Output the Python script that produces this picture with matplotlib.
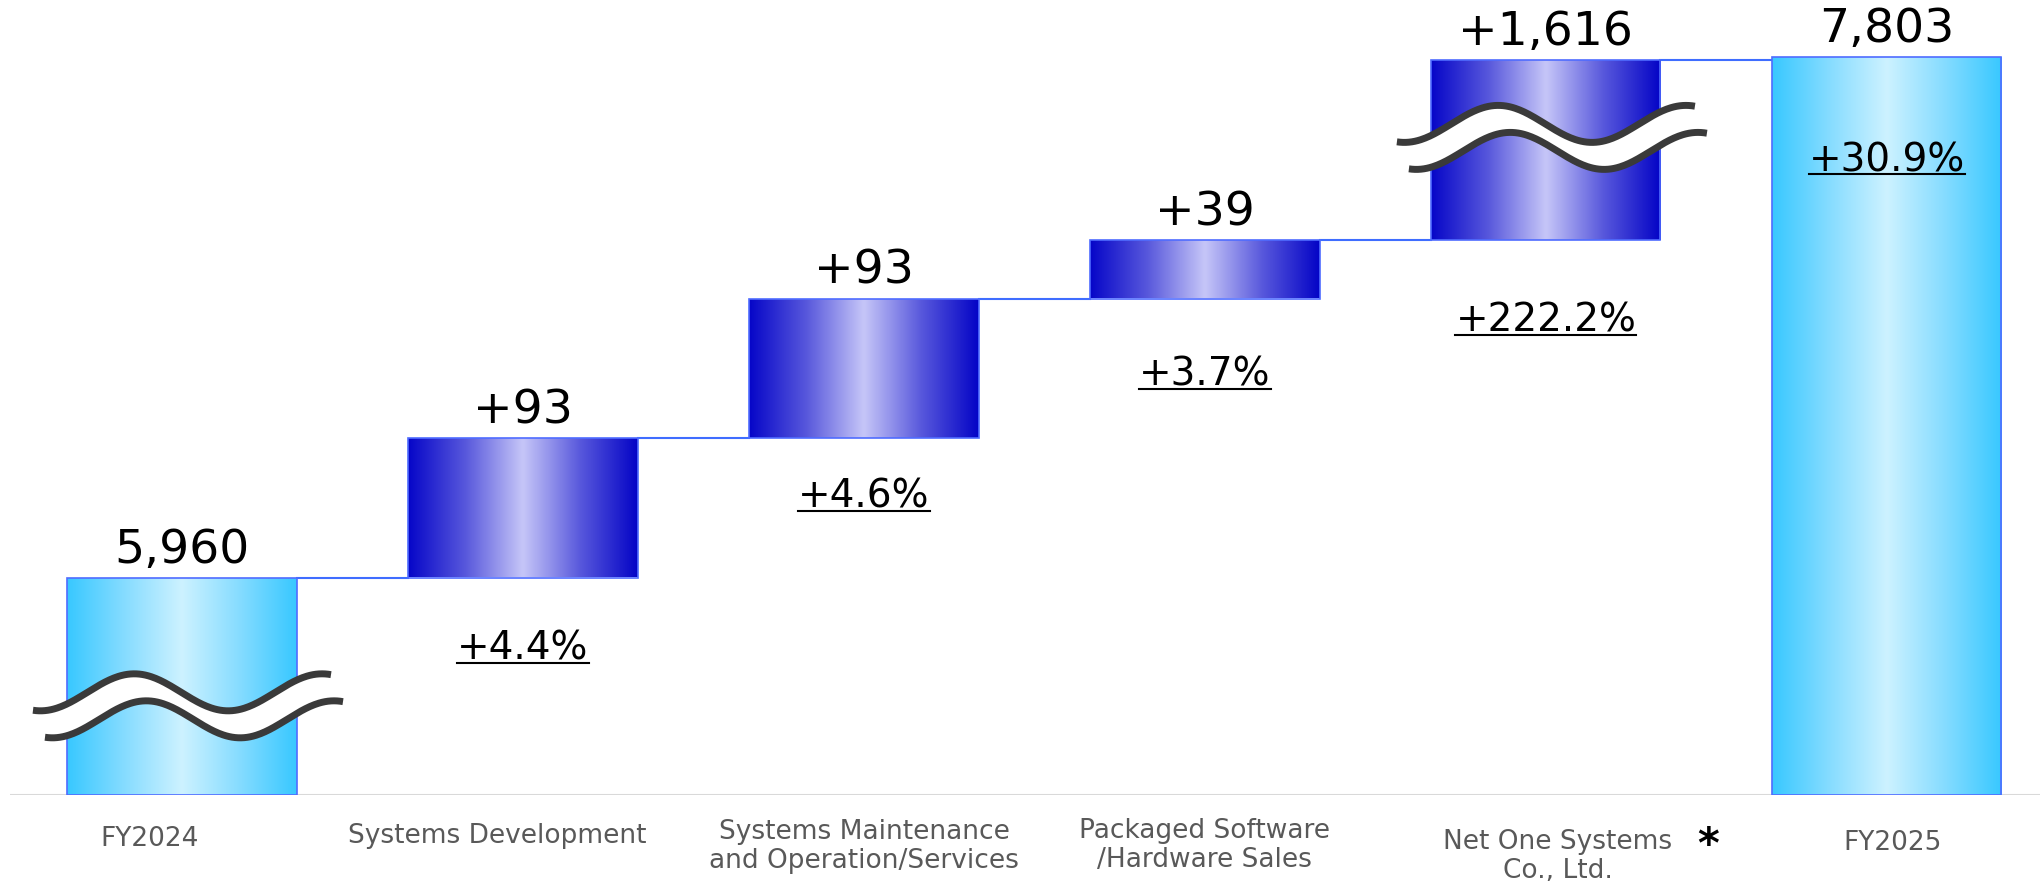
import numpy as np
import matplotlib
matplotlib.use('Agg')
import matplotlib.pyplot as plt
import matplotlib.transforms as mtransforms
from matplotlib.colors import LinearSegmentedColormap
from matplotlib.patches import Polygon
from matplotlib.lines import Line2D

# Data
categories = ['FY2024', 'Systems Development',
              'Systems Maintenance\nand Operation/Services',
              'Packaged Software\n/Hardware Sales',
              'Net One Systems\nCo., Ltd.', 'FY2025']
values = [5960, 93, 93, 39, 1616, 7803]
kinds = ['total', 'delta', 'delta', 'delta', 'delta', 'total']
value_labels = ['5,960', '+93', '+93', '+39', '+1,616', '7,803']
pct_labels = ['', '+4.4%', '+4.6%', '+3.7%', '+222.2%', '+30.9%']
# amount hidden by each axis break (shown with a wavy mark)
break_cut = [5815, 0, 0, 0, 1496, 0]

# Layout / style
bar_w = 0.672
break_frac = [0.41, None, None, None, 0.57, None]
cat_dx = [-32, -26, 0, 0, 12, 6]
cat_dy = [-31, -28, -24, -23, -34, -35]
pct_dy = [0, -52, -40, -57, -62, -84]

blue_cmap = LinearSegmentedColormap.from_list('blue', [
    (0.0, '#0606c8'), (0.25, '#5858dc'), (0.5, '#c6c6f8'),
    (0.75, '#5858dc'), (1.0, '#0404c6')])
cyan_cmap = LinearSegmentedColormap.from_list('cyan', [
    (0.0, '#38c8ff'), (0.25, '#86dcff'), (0.5, '#cdf2ff'),
    (0.75, '#86dcff'), (1.0, '#38c8ff')])

# waterfall positions (after removing the broken-off amounts)
bottoms, heights = [], []
level, cut_total = 0, 0
for v, k, c in zip(values, kinds, break_cut):
    cut_total += c
    if k == 'total':
        b, h = 0, v - cut_total
    else:
        b, h = level, v - c
    bottoms.append(b)
    heights.append(h)
    level = b + h

fig = plt.figure(figsize=(20.43, 8.86), dpi=100)
ax = fig.add_axes([10 / 2043, 91 / 886, 2030 / 2043, 795 / 886])
ax.axis('off')

x = np.arange(len(values))
bars = ax.bar(x, heights, bottom=bottoms, width=bar_w, color='none',
              edgecolor='#4f6cff', linewidth=1.2, zorder=3)

grad = np.linspace(0, 1, 256)[None, :]
for i, p in enumerate(bars):
    cmap = cyan_cmap if kinds[i] == 'total' else blue_cmap
    im = ax.imshow(grad, cmap=cmap, aspect='auto', origin='lower',
                   extent=(x[i] - bar_w / 2, x[i] + bar_w / 2,
                           bottoms[i], bottoms[i] + heights[i]),
                   zorder=2, interpolation='bilinear')
    im.set_clip_path(p)
ax.set_xlim(-0.5044, 5.449)
ax.set_ylim(0, 530)

# baseline
ax.axhline(0, color='#d9d9d9', lw=1.5, zorder=1)

# connectors
for i in range(len(values) - 1):
    top = bottoms[i] + heights[i]
    ax.plot([x[i] + bar_w / 2, x[i + 1] - bar_w / 2], [top, top],
            color='#3f6dff', lw=1.5, zorder=1)

# break marks
t = np.linspace(-1, 1, 200)
wave = -18.5 * np.cos(np.pi * (t + 0.32) / 0.63)
xs = 149 * t
top_line = np.column_stack([xs, -(-13.5 + wave)])
bot_line = np.column_stack([xs + 12, -(13.5 + wave)])
for i, f in enumerate(break_frac):
    if f is None:
        continue
    yb = bottoms[i] + f * heights[i]
    tr = mtransforms.Affine2D() + mtransforms.ScaledTranslation(x[i], yb, ax.transData)
    poly = Polygon(np.vstack([top_line, bot_line[::-1]]), closed=True,
                   facecolor='white', edgecolor='none', transform=tr, zorder=5)
    ax.add_patch(poly)
    for ln in (top_line, bot_line):
        ax.plot(ln[:, 0], ln[:, 1], color='#3a3a3a', lw=5,
                solid_capstyle='butt', transform=tr, zorder=6)

# value labels
for i in range(len(values)):
    ax.annotate(value_labels[i], (x[i], bottoms[i] + heights[i]),
                xytext=(0, 5), textcoords='offset pixels',
                ha='center', va='bottom', fontsize=34, color='black')

# percentage labels (underlined)
pct_texts = []
for i in range(len(values)):
    if not pct_labels[i]:
        continue
    if kinds[i] == 'total':
        anchor = bottoms[i] + heights[i]
    else:
        anchor = bottoms[i]
    tx = ax.annotate(pct_labels[i], (x[i], anchor),
                     xytext=(0, pct_dy[i]), textcoords='offset pixels',
                     ha='center', va='top', fontsize=28, color='black', zorder=7)
    pct_texts.append(tx)

# category labels
for i in range(len(values)):
    ax.annotate(categories[i], (x[i], 0), xytext=(cat_dx[i], cat_dy[i]),
                textcoords='offset pixels', ha='center', va='top',
                fontsize=19, color='#595959', linespacing=1.15,
                annotation_clip=False)
ax.annotate('*', (x[4], 0), xytext=(162, -30), textcoords='offset pixels',
            ha='center', va='top', fontsize=30, fontweight='bold',
            color='black', annotation_clip=False)

fig.canvas.draw()
renderer = fig.canvas.get_renderer()
for tx in pct_texts:
    bb = tx.get_window_extent(renderer)
    yl = bb.y0 + 0.13 * bb.height
    fig.add_artist(Line2D([bb.x0, bb.x1], [yl, yl], color='black', lw=1.5,
                          transform=mtransforms.IdentityTransform(), zorder=8))

fig.savefig('out.png', dpi=100)
